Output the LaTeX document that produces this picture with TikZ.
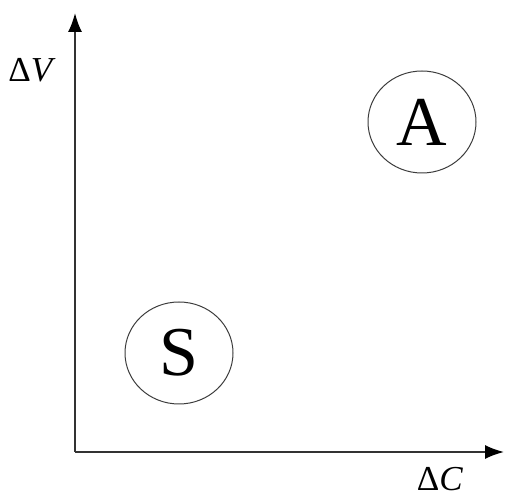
\documentclass[tikz,border=0pt]{standalone}
\usepackage{fontspec}
\setmainfont{Liberation Serif}
\usetikzlibrary{arrows.meta,positioning,shapes.geometric}
\definecolor{AxisGrey}{RGB}{51,51,51}
\definecolor{RingGrey}{RGB}{60,60,60}

\begin{document}
\begin{tikzpicture}[x=1pt,y=1pt,>={Latex[length=19pt,width=14pt,black]}]
      \useasboundingbox (0,0) rectangle (505,497);
      \tikzset{
        region/.style={ellipse,draw=RingGrey,line width=1pt,
          minimum width=108pt,minimum height=102pt,inner sep=0pt,
          font=\fontsize{70}{80}\selectfont},
        axislabel/.style={inner sep=0pt,font=\fontsize{35}{40}\selectfont}
      }
      \coordinate (origin) at (75,45);
      \coordinate (vtip) at (75,484);
      \coordinate (ctip) at (504,45);
      \draw[->,AxisGrey,line width=1.8pt] (origin)--(vtip);
      \draw[->,AxisGrey,line width=1.8pt] (origin)--(ctip);
      \node[axislabel] (labV) at (32,427) {Δ\textit{V}};
      \node[axislabel] (labC) at (440,18) {Δ\textit{C}};
      \node[region] (nodeA) at (422,375) {A};
      \node[region] (nodeS) at (179,144) {S};
    \end{tikzpicture}
\end{document}
